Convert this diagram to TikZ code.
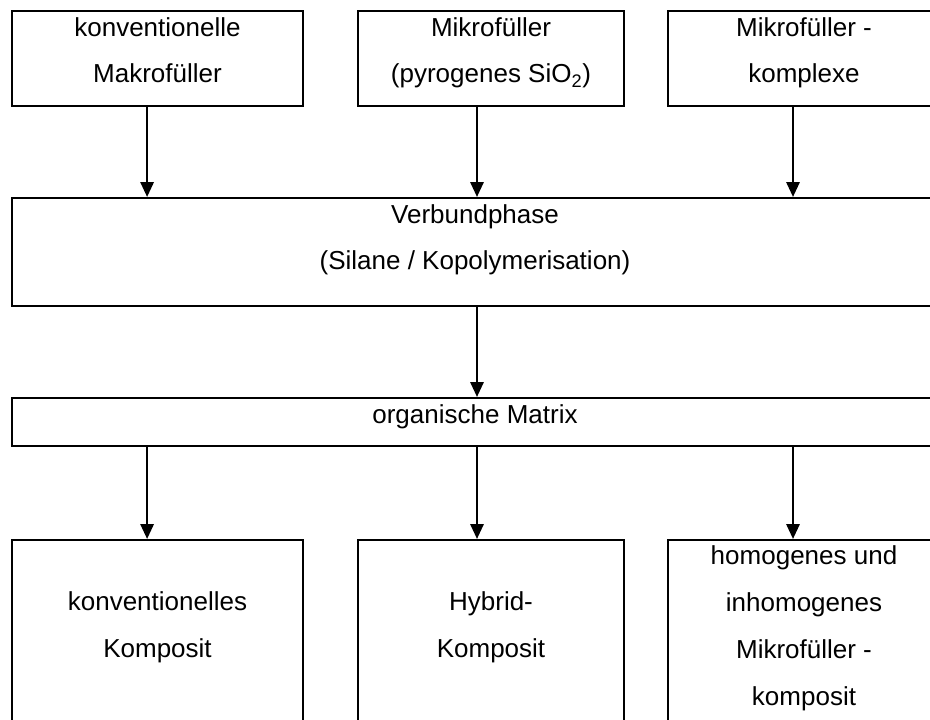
\documentclass[tikz,border=0pt]{standalone}
\usepackage{fontspec}
\setmainfont{Liberation Sans}
\usepackage{tikz}
\usetikzlibrary{arrows.meta}

\begin{document}
\begin{tikzpicture}[>={Triangle[width=0.33cm,length=0.37cm]}, font=\fontsize{18.5pt}{33.4pt}\selectfont]
\tikzstyle{box}=[draw, line width=1.5pt, align=center, inner sep=0pt, anchor=base]
\tikzstyle{arr}=[->, line width=1.5pt]
\useasboundingbox (0,0) rectangle (23.25,17.975);
\clip (0,0) rectangle (23.25,17.975);
% Fuellstoffe
\node[box, minimum width=7.275cm, text height=1.8cm, text depth=0.575cm] (mak) at (3.9375,15.9) {konventionelle\\Makrofüller};
\node[box, minimum width=6.65cm, text height=1.8cm, text depth=0.575cm] (mik) at (12.275,15.9) {Mikrofüller\\(pyrogenes SiO\textsubscript{2})};
\node[box, minimum width=6.8cm, text height=1.8cm, text depth=0.575cm] (kom) at (20.1,15.9) {Mikrofüller -\\komplexe};
% Verbund und Matrix
\node[box, minimum width=23.15cm, text height=1.8cm, text depth=0.9cm] (verb) at (11.875,11.225) {Verbundphase\\(Silane / Kopolymerisation)};
\node[box, minimum width=23.15cm, text height=0.625cm, text depth=0.575cm] (mat) at (11.875,7.4) {organische Matrix};
% Komposite
\node[box, minimum width=7.275cm, text height=2.925cm, text depth=1.825cm] (kon) at (3.9375,1.55) {konventionelles\\Komposit};
\node[box, minimum width=6.65cm, text height=2.925cm, text depth=1.825cm] (hyb) at (12.275,1.55) {Hybrid-\\Komposit};
\node[box, minimum width=6.8cm, text height=4.125cm, text depth=0.625cm] (mfk) at (20.1,0.35) {homogenes und\\inhomogenes\\Mikrofüller -\\komposit};
\draw[arr] ([xshift=-0.26cm]mak.south) -- ([xshift=-0.26cm]mak.south |- verb.north);
\draw[arr] ([xshift=-0.35cm]mik.south) -- ([xshift=-0.35cm]mik.south |- verb.north);
\draw[arr] ([xshift=-0.275cm]kom.south) -- ([xshift=-0.275cm]kom.south |- verb.north);
\draw[arr] ([xshift=0.05cm]verb.south) -- ([xshift=0.05cm]verb.south |- mat.north);
\draw[arr] ([xshift=-0.26cm]kon.north |- mat.south) -- ([xshift=-0.26cm]kon.north);
\draw[arr] ([xshift=-0.35cm]hyb.north |- mat.south) -- ([xshift=-0.35cm]hyb.north);
\draw[arr] ([xshift=-0.275cm]mfk.north |- mat.south) -- ([xshift=-0.275cm]mfk.north);
\end{tikzpicture}
\end{document}
